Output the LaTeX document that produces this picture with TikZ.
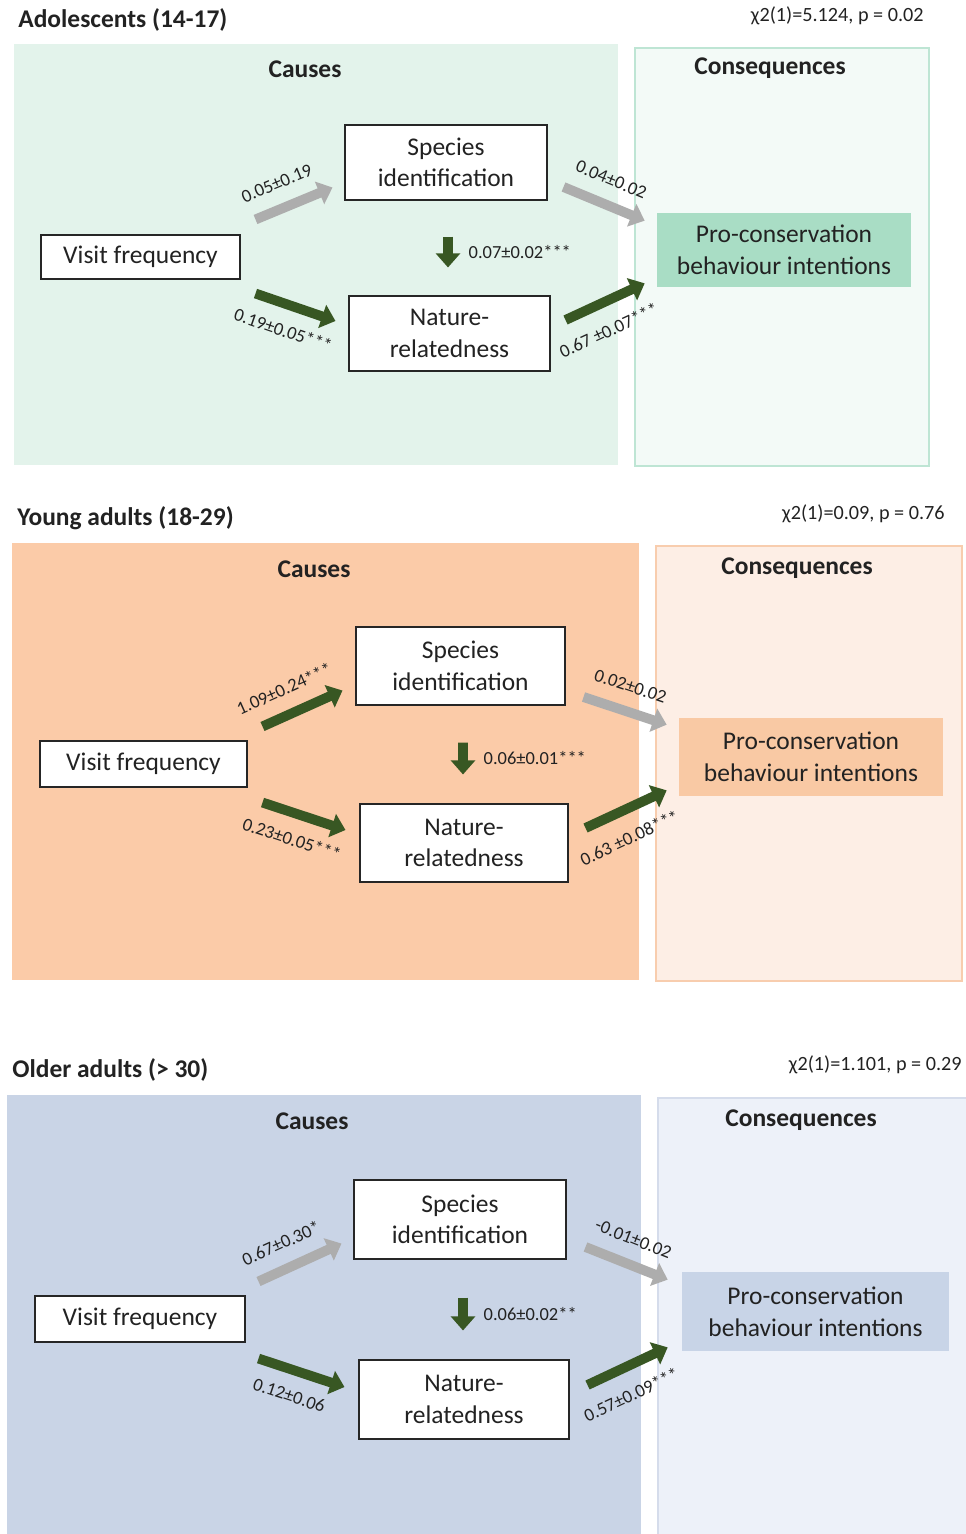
\documentclass[tikz,border=0pt]{standalone}
\usepackage{fontspec}
\setmainfont{Carlito}
\usetikzlibrary{arrows.meta}
\definecolor{txt}{HTML}{222222}
\definecolor{arrgreen}{HTML}{385723}
\definecolor{arrgray}{HTML}{ADADAD}
\definecolor{causeA}{HTML}{E3F3EB}
\definecolor{consA}{HTML}{F3FAF7}
\definecolor{lineA}{HTML}{BEE5D4}
\definecolor{proA}{HTML}{A9DDC5}
\definecolor{causeB}{HTML}{FBCBA8}
\definecolor{consB}{HTML}{FDEEE5}
\definecolor{lineB}{HTML}{F8CDAE}
\definecolor{proB}{HTML}{F9C9A4}
\definecolor{causeC}{HTML}{C9D4E6}
\definecolor{consC}{HTML}{EDF1F9}
\definecolor{lineC}{HTML}{D5DCEB}
\definecolor{proC}{HTML}{C8D4E7}

\begin{document}
\begin{tikzpicture}[x=0.02cm,y=-0.02cm]
    \tikzstyle{every node}=[text=txt]
    \tikzstyle{box} = [draw=black!85, fill=white, line width=0.6pt, align=center, inner sep=0pt, font=\fontsize{14.5}{18}\selectfont]
    \tikzstyle{pro} = [align=center, inner sep=0pt, font=\fontsize{14.5}{18}\selectfont]
    \tikzstyle{ttl} = [anchor=west, inner sep=0pt, font=\fontsize{14.5}{17}\selectfont\bfseries]
    \tikzstyle{hdr} = [inner sep=0pt, font=\fontsize{14.5}{17}\selectfont\bfseries]
    \tikzstyle{chi} = [anchor=east, inner sep=0pt, font=\fontsize{11.5}{13}\selectfont]
    \tikzstyle{garr} = [draw=arrgray, line width=5.6pt, -{Triangle[length=8pt,width=13.5pt]}]
    \tikzstyle{darr} = [draw=arrgreen, line width=5.6pt, -{Triangle[length=8pt,width=13.5pt]}]
    \tikzstyle{lab} = [font=\fontsize{10.5}{12}\selectfont, inner sep=1pt]
    \useasboundingbox (0,0) rectangle (966,1534);

    \fill [causeA] (14,44) rectangle (618,465);
    \filldraw [fill=consA, draw=lineA, line width=0.8pt] (635,48) rectangle (929,466);
    \node [ttl] (t1) at (18,20) {Adolescents (14-17)};
    \node [chi] (x1) at (924,16) {χ2(1)=5.124, p = 0.02};
    \node [hdr] (h1) at (305,69) {Causes};
    \node [hdr] (k1) at (770,68) {Consequences};
    \node [box, minimum width=3.98cm, minimum height=0.88cm] (vf1) at (140.5,257) {Visit frequency};
    \node [box, minimum width=4.04cm, minimum height=1.5cm] (si1) at (446,162.5) {Species\\identification};
    \node [box, minimum width=4.02cm, minimum height=1.5cm] (nr1) at (449.5,333.5) {Nature-\\relatedness};
    \node [pro, fill=proA, minimum width=5.08cm, minimum height=1.48cm] (pb1) at (784,250) {Pro-conservation\\behaviour intentions};
    \draw [garr] ([shift={(15,-15)}]vf1.north east) -- ([shift={(-12,-13)}]si1.south west)
        node [lab, sloped, above=7pt, pos=0.4] {0.05±0.19};
    \draw [darr] ([shift={(15,14)}]vf1.south east) -- ([shift={(-13,-12.5)}]nr1.west)
        node [lab, sloped, below=7pt, pos=0.45] {0.19±0.05***};
    \draw [darr] ([shift={(2,36)}]si1.south) -- ([shift={(-1.5,-28)}]nr1.north)
        node [lab, right=8pt, midway] {0.07±0.02***};
    \draw [garr] ([shift={(16,24.5)}]si1.east) -- ([shift={(-12,8)}]pb1.north west)
        node [lab, sloped, above=7pt, pos=0.47] {0.04±0.02};
    \draw [darr] ([shift={(15,-13.5)}]nr1.east) -- ([shift={(-12,-4)}]pb1.south west)
        node [lab, sloped, below=8pt, pos=0.4] {0.67 ±0.07***};

    \fill [causeB] (12,543) rectangle (639,980);
    \filldraw [fill=consB, draw=lineB, line width=0.8pt] (656,546) rectangle (962,981);
    \node [ttl] (t2) at (17,518) {Young adults (18-29)};
    \node [chi] (x2) at (945,514) {χ2(1)=0.09, p = 0.76};
    \node [hdr] (h2) at (314,569) {Causes};
    \node [hdr] (k2) at (797,568) {Consequences};
    \node [box, minimum width=4.14cm, minimum height=0.92cm] (vf2) at (143.5,764) {Visit frequency};
    \node [box, minimum width=4.18cm, minimum height=1.56cm] (si2) at (460.5,666) {Species\\identification};
    \node [box, minimum width=4.16cm, minimum height=1.56cm] (nr2) at (464,843) {Nature-\\relatedness};
    \node [pro, fill=proB, minimum width=5.28cm, minimum height=1.56cm] (pb2) at (811,757) {Pro-conservation\\behaviour intentions};
    \draw [darr] ([shift={(15,-14)}]vf2.north east) -- ([shift={(-13,-15)}]si2.south west)
        node [lab, sloped, above=7pt, pos=0.4] {1.09±0.24***};
    \draw [darr] ([shift={(15,15)}]vf2.south east) -- ([shift={(-14,-13)}]nr2.west)
        node [lab, sloped, below=7pt, pos=0.45] {0.23±0.05***};
    \draw [darr] ([shift={(2.5,37)}]si2.south) -- ([shift={(-1,-29)}]nr2.north)
        node [lab, right=8pt, midway] {0.06±0.01***};
    \draw [garr] ([shift={(18,31)}]si2.east) -- ([shift={(-12,7)}]pb2.north west)
        node [lab, sloped, above=7pt, pos=0.47] {0.02±0.02};
    \draw [darr] ([shift={(17,-15)}]nr2.east) -- ([shift={(-12,-6)}]pb2.south west)
        node [lab, sloped, below=8pt, pos=0.4] {0.63 ±0.08***};

    \fill [causeC] (7,1095) rectangle (641,1534);
    \filldraw [fill=consC, draw=lineC, line width=0.8pt] (658,1098) rectangle (968,1536);
    \node [ttl] (t3) at (12,1070) {Older adults (> 30)};
    \node [chi] (x3) at (962,1065) {χ2(1)=1.101, p = 0.29};
    \node [hdr] (h3) at (312,1121) {Causes};
    \node [hdr] (k3) at (801,1120) {Consequences};
    \node [box, minimum width=4.2cm, minimum height=0.92cm] (vf3) at (140,1319) {Visit frequency};
    \node [box, minimum width=4.24cm, minimum height=1.58cm] (si3) at (460,1219.5) {Species\\identification};
    \node [box, minimum width=4.2cm, minimum height=1.58cm] (nr3) at (464,1399.5) {Nature-\\relatedness};
    \node [pro, fill=proC, minimum width=5.34cm, minimum height=1.58cm] (pb3) at (815.5,1311.5) {Pro-conservation\\behaviour intentions};
    \draw [garr] ([shift={(13,-14)}]vf3.north east) -- ([shift={(-12,-16)}]si3.south west)
        node [lab, sloped, above=7pt, pos=0.4] {0.67±0.30*};
    \draw [darr] ([shift={(13,16)}]vf3.south east) -- ([shift={(-14,-12.5)}]nr3.west)
        node [lab, sloped, below=7pt, pos=0.45] {0.12±0.06};
    \draw [darr] ([shift={(3,38)}]si3.south) -- ([shift={(-1,-29)}]nr3.north)
        node [lab, right=8pt, midway] {0.06±0.02**};
    \draw [garr] ([shift={(19,27.5)}]si3.east) -- ([shift={(-14,8)}]pb3.north west)
        node [lab, sloped, above=7pt, pos=0.47] {-0.01±0.02};
    \draw [darr] ([shift={(18,-14.5)}]nr3.east) -- ([shift={(-14,-4)}]pb3.south west)
        node [lab, sloped, below=8pt, pos=0.4] {0.57±0.09***};
\end{tikzpicture}
\end{document}
